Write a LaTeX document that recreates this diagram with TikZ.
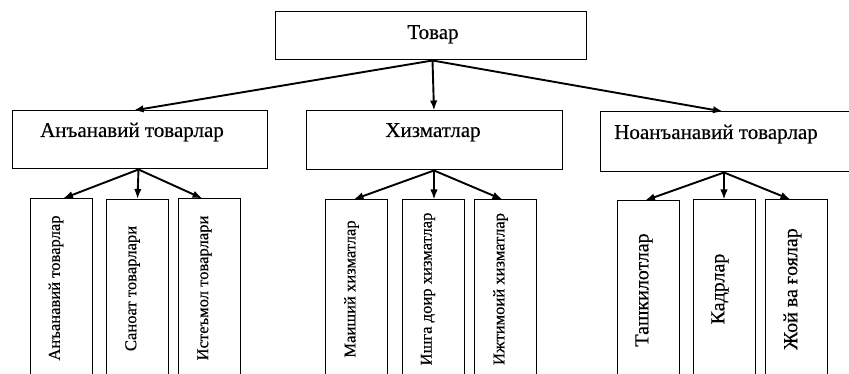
\documentclass[tikz,border=0pt]{standalone}
\usepackage{fontspec}
\setmainfont{Liberation Serif}[FakeBold=0.4]
\usetikzlibrary{arrows.meta}
\tikzset{
  box/.style={draw, line width=1pt, rectangle, inner sep=0pt},
  leaf/.style={box, minimum width=62pt, minimum height=178pt},
  mid/.style={font=\fontsize{21}{24}\selectfont, inner sep=0pt, anchor=base},
  vtxt/.style={rotate=90, inner sep=0pt},
  vsmall/.style={vtxt, font=\fontsize{16.6}{19}\selectfont},
  vbig/.style={vtxt, font=\fontsize{20}{22}\selectfont},
  arr/.style={line width=1.9pt, -{Latex[length=10pt,width=7.5pt]}}
}
\begin{document}
\begin{tikzpicture}[x=1pt,y=-1pt]
\useasboundingbox (0,0) rectangle (849,374);
\clip (0,0) rectangle (849,374);
% top
\node[box, minimum width=311pt, minimum height=48pt] (top) at (430.5,36) {};
\node[mid] (toptxt) at (433,39) {Товар};
% level 2
\node[box, minimum width=255pt, minimum height=58pt] (L) at (139.5,140) {};
\node[box, minimum width=256pt, minimum height=59pt] (M) at (434,140.5) {};
\node[box, minimum width=254pt, minimum height=60pt] (R) at (727,142) {};
\node[mid] (Ltxt) at (132,137) {Анъанавий товарлар};
\node[mid] (Mtxt) at (433,137) {Хизматлар};
\node[mid] (Rtxt) at (716,139) {Ноанъанавий товарлар};
% leaves
\node[leaf] (L1) at (61,288) {};
\node[leaf] (L2) at (137.5,288.5) {};
\node[leaf] (L3) at (209.5,288) {};
\node[leaf] (M1) at (356.5,289) {};
\node[leaf] (M2) at (433,289) {};
\node[leaf] (M3) at (505.5,289) {};
\node[leaf] (R1) at (648,290) {};
\node[leaf] (R2) at (724,289) {};
\node[leaf] (R3) at (796.5,289) {};
\node[vsmall] (L1t) at ([xshift=-5pt]L1.center) {Анъанавий товарлар};
\node[vsmall] (L2t) at ([xshift=-5pt]L2.center) {Саноат товарлари};
\node[vsmall] (L3t) at ([xshift=-5pt]L3.center) {Истеъмол товарлари};
\node[vsmall] (M1t) at ([xshift=-5pt]M1.center) {Маиший хизматлар};
\node[vsmall] (M2t) at ([xshift=-5pt]M2.center) {Ишга доир хизматлар};
\node[vsmall] (M3t) at ([xshift=-5pt]M3.center) {Ижтимоий хизматлар};
\node[vbig] (R1t) at ([xshift=-4pt]R1.center) {Ташкилотлар};
\node[vbig] (R2t) at ([xshift=-4pt]R2.center) {Кадрлар};
\node[vbig] (R3t) at ([xshift=-4pt]R3.center) {Жой ва ғоялар};
% arrows
\draw[arr] ([xshift=2pt]top.south) -- ([xshift=-6pt]L.north);
\draw[arr] ([xshift=2pt]top.south) -- (M.north);
\draw[arr] ([xshift=2pt]top.south) -- ([xshift=-4pt]R.north);
\draw[arr] ([xshift=-1pt]L.south) -- ([xshift=2pt]L1.north);
\draw[arr] ([xshift=-1pt]L.south) -- (L2.north);
\draw[arr] ([xshift=-1pt]L.south) -- ([xshift=-7pt]L3.north);
\draw[arr] (M.south) -- ([xshift=-3pt]M1.north);
\draw[arr] (M.south) -- ([xshift=1pt]M2.north);
\draw[arr] (M.south) -- ([xshift=-3pt]M3.north);
\draw[arr] ([xshift=-3pt]R.south) -- ([xshift=-3pt]R1.north);
\draw[arr] ([xshift=-3pt]R.south) -- (R2.north);
\draw[arr] ([xshift=-3pt]R.south) -- ([xshift=-6pt]R3.north);
\end{tikzpicture}
\end{document}
